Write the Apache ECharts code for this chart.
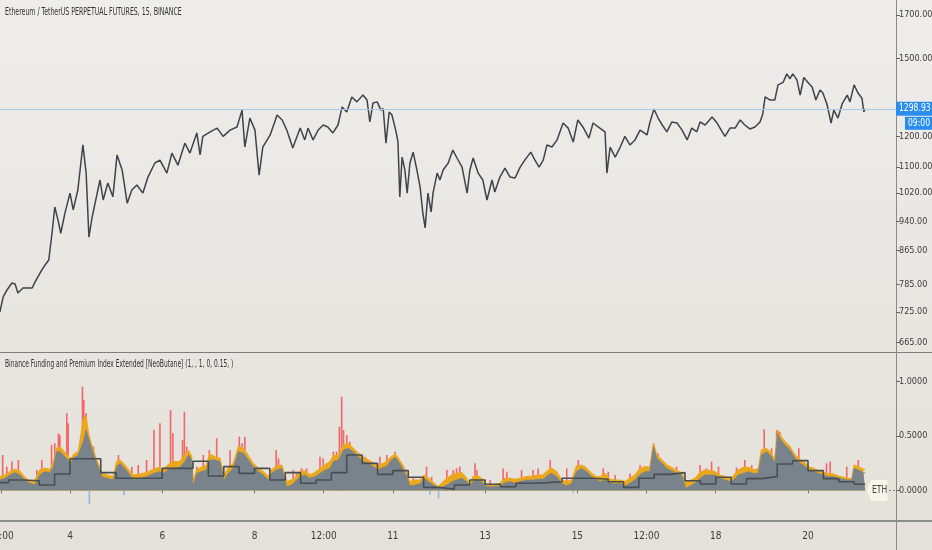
<!DOCTYPE html>
<html>
<head>
<meta charset="utf-8">
<script src="https://cdn.jsdelivr.net/npm/echarts@6/dist/echarts.min.js"></script>
<style>
html, body { margin: 0; padding: 0; }
#chart { width: 932px; height: 550px; background: linear-gradient(#eeedeb, #e4e1da); }
</style>
</head>
<body>
<div id="chart"></div>
<script>
// ETHUSDT perp, 15m, Jan 2021 -- x values are days of the month
const ethClose = [
  [2.48,725],[2.55,757],[2.63,772],[2.74,788],[2.81,786],[2.87,766],[2.98,777],[3.18,777],[3.24,790],[3.35,811],
  [3.46,830],[3.54,842],[3.61,909],[3.67,980],[3.74,944],[3.80,909],[3.89,963],[4.00,1020],[4.07,972],[4.17,1029],
  [4.28,1171],[4.35,1080],[4.41,899],[4.48,952],[4.59,1020],[4.65,1059],[4.72,1000],[4.82,1050],[4.93,1009],[5.02,1138],
  [5.13,1090],[5.24,991],[5.34,1029],[5.45,1044],[5.58,1020],[5.69,1068],[5.84,1112],[5.95,1121],[6.10,1080],[6.21,1144],
  [6.34,1105],[6.49,1177],[6.60,1144],[6.75,1212],[6.82,1138],[6.88,1200],[7.04,1216],[7.19,1229],[7.32,1200],[7.47,1222],
  [7.62,1233],[7.73,1294],[7.79,1164],[7.90,1265],[8.01,1222],[8.10,1074],[8.18,1164],[8.34,1205],[8.49,1276],[8.60,1258],
  [8.70,1222],[8.83,1161],[8.99,1229],[9.09,1188],[9.16,1229],[9.27,1188],[9.38,1222],[9.49,1240],[9.59,1233],[9.70,1212],
  [9.81,1240],[9.90,1306],[10.00,1287],[10.11,1344],[10.22,1325],[10.35,1351],[10.44,1332],[10.50,1251],[10.57,1321],[10.66,1325],
  [10.74,1294],[10.79,1300],[10.85,1177],[10.92,1287],[10.98,1276],[11.07,1216],[11.11,1181],[11.15,1009],[11.20,1131],[11.26,1090],
  [11.31,1020],[11.37,1112],[11.44,1147],[11.52,1090],[11.59,1038],[11.65,963],[11.70,923],[11.76,1020],[11.83,966],[11.87,1020],
  [11.96,1080],[12.02,1059],[12.09,1090],[12.20,1112],[12.30,1154],[12.39,1128],[12.50,1099],[12.61,1020],[12.67,1090],[12.74,1128],
  [12.85,1080],[12.95,1059],[13.04,1000],[13.15,1059],[13.21,1023],[13.32,1068],[13.43,1096],[13.54,1068],[13.65,1065],[13.76,1099],
  [13.86,1121],[13.99,1147],[14.08,1121],[14.17,1099],[14.26,1121],[14.34,1171],[14.45,1164],[14.56,1188],[14.69,1247],[14.80,1229],
  [14.91,1181],[15.01,1258],[15.12,1233],[15.25,1194],[15.34,1247],[15.45,1233],[15.60,1216],[15.64,1080],[15.71,1164],[15.82,1131],
  [15.93,1164],[16.03,1200],[16.14,1171],[16.25,1188],[16.36,1222],[16.51,1205],[16.57,1247],[16.66,1298],[16.75,1265],[16.84,1240],
  [16.94,1216],[17.05,1251],[17.16,1247],[17.27,1222],[17.38,1188],[17.48,1229],[17.59,1216],[17.66,1251],[17.77,1240],[17.92,1269],
  [18.03,1247],[18.14,1216],[18.20,1200],[18.31,1229],[18.42,1229],[18.53,1258],[18.63,1240],[18.74,1226],[18.85,1233],[18.96,1251],
  [19.02,1280],[19.07,1344],[19.18,1332],[19.28,1332],[19.35,1391],[19.46,1401],[19.54,1436],[19.61,1416],[19.67,1436],[19.76,1411],
  [19.83,1351],[19.91,1421],[20.00,1401],[20.09,1383],[20.17,1332],[20.26,1371],[20.32,1360],[20.41,1317],[20.50,1247],[20.56,1294],
  [20.65,1265],[20.74,1317],[20.85,1351],[20.91,1325],[21.00,1391],[21.08,1360],[21.17,1339],[21.21,1287],[21.24,1298.93]
];
const lastPrice = 1298.93;
const priceTicks = [665, 725, 785, 865, 940, 1020, 1100, 1200, 1500, 1700];

// premium index (orange) and its running average (grey), same days
const premDays = [
  2.48,2.59,2.70,2.81,2.92,3.02,3.13,3.24,3.34,3.46,3.57,3.64,3.71,3.78,3.89,3.96,4.01,4.07,4.18,4.29,
  4.35,4.40,4.47,4.54,4.61,4.69,4.80,4.94,5.01,5.08,5.19,5.30,5.37,5.52,5.66,5.81,5.95,6.02,6.13,6.24,
  6.38,6.49,6.57,6.64,6.67,6.75,6.85,6.96,7.03,7.14,7.25,7.34,7.43,7.54,7.65,7.76,7.87,7.97,8.08,8.19,
  8.30,8.37,8.48,8.59,8.66,8.70,8.81,8.91,8.99,9.09,9.20,9.31,9.42,9.53,9.64,9.71,9.82,9.93,10.03,10.14,
  10.25,10.36,10.47,10.58,10.68,10.79,10.86,10.97,11.05,11.12,11.23,11.30,11.37,11.48,11.59,11.68,11.77,11.88,11.99,12.06,
  12.17,12.28,12.38,12.49,12.60,12.67,12.74,12.85,12.96,13.03,13.18,13.32,13.43,13.54,13.65,13.76,13.90,14.05,14.15,14.26,
  14.37,14.44,14.55,14.66,14.77,14.88,14.98,15.09,15.20,15.31,15.42,15.49,15.60,15.71,15.82,15.92,16.03,16.14,16.25,16.34,
  16.47,16.57,16.65,16.72,16.83,16.94,17.04,17.15,17.26,17.35,17.44,17.55,17.66,17.77,17.88,17.98,18.09,18.20,18.31,18.38,
  18.49,18.60,18.71,18.81,18.92,18.99,19.10,19.21,19.28,19.34,19.39,19.50,19.61,19.72,19.83,19.93,20.01,20.12,20.22,20.33,
  20.44,20.55,20.66,20.77,20.87,20.95,21.00,21.09,21.20,21.24
];
const premIndex = [
  0.127,0.142,0.173,0.194,0.173,0.121,0.081,0.096,0.188,0.203,0.194,0.265,0.387,0.402,0.347,0.317,0.280,0.326,0.356,0.660,
  0.680,0.525,0.417,0.326,0.249,0.164,0.142,0.127,0.265,0.280,0.234,0.173,0.142,0.151,0.164,0.194,0.213,0.194,0.234,0.265,
  0.265,0.326,0.365,0.310,0.081,0.194,0.213,0.234,0.335,0.310,0.295,0.142,0.203,0.249,0.402,0.387,0.317,0.249,0.203,0.173,
  0.127,0.188,0.225,0.234,0.142,0.081,0.096,0.127,0.173,0.182,0.142,0.164,0.203,0.234,0.265,0.317,0.326,0.417,0.433,0.387,
  0.341,0.304,0.280,0.249,0.225,0.249,0.265,0.310,0.335,0.295,0.219,0.157,0.081,0.096,0.096,0.142,0.112,0.072,0.035,0.066,
  0.112,0.142,0.157,0.164,0.112,0.051,0.127,0.133,0.096,0.051,0.051,0.066,0.112,0.112,0.103,0.112,0.127,0.133,0.142,0.142,
  0.188,0.203,0.173,0.096,0.081,0.096,0.225,0.234,0.203,0.157,0.127,0.127,0.157,0.103,0.096,0.096,0.081,0.112,0.142,0.194,
  0.219,0.213,0.433,0.326,0.280,0.234,0.213,0.182,0.164,0.081,0.090,0.112,0.164,0.188,0.182,0.173,0.142,0.127,0.112,0.133,
  0.188,0.213,0.213,0.194,0.188,0.372,0.387,0.341,0.280,0.555,0.509,0.448,0.402,0.326,0.280,0.255,0.219,0.203,0.182,0.164,
  0.157,0.151,0.133,0.121,0.112,0.105,0.234,0.219,0.194,0.194
];
const premBasis = [
  0.096,0.112,0.142,0.164,0.142,0.096,0.066,0.051,0.142,0.173,0.164,0.219,0.356,0.356,0.310,0.280,0.234,0.295,0.326,0.450,
  0.555,0.479,0.387,0.295,0.219,0.127,0.112,0.096,0.219,0.249,0.203,0.142,0.096,0.112,0.127,0.157,0.173,0.157,0.188,0.203,
  0.213,0.265,0.326,0.280,0.035,0.157,0.173,0.188,0.280,0.280,0.265,0.096,0.157,0.203,0.356,0.341,0.280,0.219,0.173,0.142,
  0.096,0.157,0.188,0.203,0.096,0.035,0.051,0.096,0.127,0.142,0.112,0.127,0.157,0.188,0.203,0.265,0.280,0.372,0.387,0.356,
  0.310,0.265,0.249,0.219,0.188,0.213,0.219,0.280,0.304,0.265,0.188,0.127,0.041,0.051,0.060,0.112,0.081,0.051,0.020,0.029,
  0.051,0.081,0.096,0.112,0.081,0.035,0.081,0.096,0.066,0.035,0.035,0.041,0.072,0.081,0.066,0.081,0.096,0.096,0.103,0.103,
  0.142,0.157,0.127,0.066,0.041,0.066,0.173,0.203,0.173,0.127,0.096,0.081,0.096,0.066,0.060,0.066,0.041,0.066,0.096,0.142,
  0.173,0.173,0.402,0.295,0.249,0.203,0.182,0.157,0.142,0.020,0.041,0.066,0.112,0.142,0.142,0.142,0.112,0.096,0.081,0.096,
  0.142,0.157,0.173,0.157,0.157,0.326,0.356,0.310,0.249,0.525,0.479,0.417,0.372,0.295,0.249,0.225,0.188,0.173,0.157,0.142,
  0.127,0.127,0.112,0.103,0.096,0.096,0.203,0.188,0.164,0.164
];

// raw premium spikes (red) and negative prints (blue)
const premSpikes = [
  [2.54,0.326],[2.63,0.219],[2.74,0.265],[2.88,0.280],[3.28,0.188],[3.39,0.280],[3.60,0.417],[3.67,0.433],[3.75,0.525],[3.78,0.509],
  [3.93,0.708],[3.96,0.616],[4.14,0.356],[4.22,0.356],[4.27,0.953],[4.30,0.830],[4.35,0.708],[4.51,0.402],[5.05,0.326],[5.34,0.219],
  [5.48,0.234],[5.66,0.280],[5.82,0.555],[5.95,0.616],[6.18,0.739],[6.23,0.525],[6.44,0.463],[6.48,0.723],[6.53,0.402],[6.75,0.219],
  [6.89,0.326],[7.02,0.372],[7.18,0.479],[7.47,0.372],[7.67,0.494],[7.73,0.433],[7.79,0.494],[8.47,0.372],[8.52,0.295],[8.84,0.188],
  [8.91,0.157],[9.02,0.203],[9.13,0.203],[9.42,0.310],[9.49,0.295],[9.56,0.249],[9.71,0.356],[9.78,0.356],[9.84,0.586],[9.89,0.861],
  [9.93,0.555],[10.00,0.509],[10.07,0.448],[10.21,0.356],[10.40,0.310],[10.54,0.265],[10.72,0.310],[10.87,0.326],[11.05,0.356],[11.44,0.112],
  [11.73,0.219],[11.84,0.127],[12.17,0.188],[12.31,0.188],[12.38,0.203],[12.45,0.219],[12.56,0.127],[12.78,0.249],[12.82,0.188],[13.11,0.096],
  [13.39,0.203],[13.47,0.173],[13.79,0.188],[14.04,0.188],[14.15,0.203],[14.41,0.280],[14.77,0.203],[15.02,0.280],[15.17,0.219],[15.56,0.203],
  [15.67,0.173],[15.82,0.142],[16.14,0.157],[16.36,0.234],[16.43,0.203],[16.66,0.427],[16.75,0.341],[17.15,0.219],[17.66,0.234],[17.80,0.203],
  [17.91,0.265],[18.06,0.219],[18.45,0.213],[18.63,0.280],[18.78,0.234],[18.89,0.203],[19.05,0.561],[19.14,0.356],[19.21,0.387],[19.32,0.555],
  [19.39,0.540],[19.80,0.387],[19.86,0.280],[20.40,0.249],[20.48,0.265],[20.84,0.219],[21.09,0.280]
];
const premNegative = [[4.42,-0.124],[5.17,-0.041],[11.80,-0.040],[11.99,-0.072],[14.91,-0.020]];

// 8h funding rate, first period starts Jan 2 08:00
const fundingStart = 2 + 1 / 3;
const fundingRate = [
  0.072,0.096,0.090,0.050,0.151,0.292,0.292,0.164,0.112,0.112,0.112,0.203,0.203,0.268,0.133,0.219,0.157,0.203,0.096,0.164,
  0.066,0.096,0.164,0.326,0.249,0.148,0.182,0.121,0.029,0.011,0.051,0.096,0.057,0.035,0.066,0.072,0.081,0.112,0.112,
  0.103,0.081,0.029,0.112,0.148,0.164,0.090,0.060,0.121,0.060,0.109,0.127,0.243,0.274,0.182,0.109,0.081,0.057
];
const lastDay = 21.24;
const dayTicks = [2.5, 4, 6, 8, 9.5, 11, 13, 15, 16.5, 18, 20];
const premTicks = [0, 0.5, 1];

const FONT = '"Liberation Sans Narrow", "DejaVu Sans Condensed", sans-serif';
const xMin = 2.4824, xMax = 21.908;

const fundingData = fundingRate.map((v, i) => [fundingStart + i / 3, v]);
fundingData.push([lastDay, fundingRate[fundingRate.length - 1]]);

// thin vertical bars from zero, without the bar-series axis padding
function spikeRenderer(color) {
  return function (params, api) {
    const top = api.coord([api.value(0), api.value(1)]);
    const base = api.coord([api.value(0), 0]);
    return {
      type: 'rect',
      shape: { x: top[0] - 0.8, y: Math.min(top[1], base[1]), width: 1.6, height: Math.abs(base[1] - top[1]) },
      style: { fill: color }
    };
  };
}

const chart = echarts.init(document.getElementById('chart'));

const axisText = { fontFamily: FONT, fontSize: 9, color: '#3c3c3c' };

chart.setOption({
  animation: false,
  backgroundColor: 'transparent',
  grid: [
    { left: 0, right: 36, top: 0, height: 352, outerBoundsMode: 'none', containLabel: false },
    { left: 0, right: 36, top: 353, height: 167, outerBoundsMode: 'none', containLabel: false }
  ],
  xAxis: [
    { type: 'value', gridIndex: 0, min: xMin, max: xMax, show: false },
    {
      type: 'value', gridIndex: 1, min: xMin, max: xMax,
      axisLine: { show: false },
      splitLine: { show: false },
      axisTick: { show: true, customValues: dayTicks, length: 3, lineStyle: { color: '#777' } },
      axisLabel: Object.assign({
        customValues: dayTicks, margin: 11,
        formatter: v => (v % 1 ? '12:00' : String(v))
      }, axisText, { fontSize: 10 })
    }
  ],
  yAxis: [
    {
      type: 'log', gridIndex: 0, position: 'right', logBase: 10, min: 646.6, max: 1774.7,
      axisLine: { show: false },
      splitLine: { show: false },
      axisTick: { show: true, customValues: priceTicks, length: 4, lineStyle: { color: '#666' } },
      axisLabel: Object.assign({ customValues: priceTicks, margin: 3, formatter: v => v.toFixed(2) }, axisText)
    },
    {
      type: 'value', gridIndex: 1, position: 'right', min: -0.2706, max: 1.2615,
      axisLine: { show: false },
      splitLine: { show: false },
      axisTick: { show: true, customValues: premTicks, length: 4, lineStyle: { color: '#666' } },
      axisLabel: Object.assign({ customValues: premTicks, margin: 3, formatter: v => v.toFixed(4) }, axisText)
    }
  ],
  series: [
    {
      type: 'line', xAxisIndex: 0, yAxisIndex: 0, data: ethClose,
      symbol: 'none', lineStyle: { color: '#3f434a', width: 1.5 },
      markLine: {
        silent: true, symbol: 'none', label: { show: false },
        lineStyle: { color: '#a9c9ea', width: 1, type: 'solid' },
        data: [{ yAxis: lastPrice }]
      }
    },
    {
      type: 'custom', xAxisIndex: 1, yAxisIndex: 1, data: premSpikes,
      renderItem: spikeRenderer('rgba(245,70,70,0.8)')
    },
    {
      type: 'custom', xAxisIndex: 1, yAxisIndex: 1, data: premNegative,
      renderItem: spikeRenderer('#8fb7e3')
    },
    {
      type: 'line', xAxisIndex: 1, yAxisIndex: 1,
      data: premDays.map((d, i) => [d, premIndex[i]]),
      symbol: 'none', lineStyle: { color: '#eca81d', width: 1.2 },
      areaStyle: { color: '#eca81d', opacity: 1 }
    },
    {
      type: 'line', xAxisIndex: 1, yAxisIndex: 1,
      data: premDays.map((d, i) => [d, premBasis[i]]),
      symbol: 'none', lineStyle: { color: '#78838b', width: 0.8 },
      areaStyle: { color: '#78838b', opacity: 1 }
    },
    {
      type: 'line', xAxisIndex: 1, yAxisIndex: 1, data: fundingData, step: 'end',
      symbol: 'none', lineStyle: { color: '#474e54', width: 1.6 }
    }
  ]
});

// overlay: pane titles, separators, last-price tags
const yPrice = chart.convertToPixel({ yAxisIndex: 0 }, lastPrice);
const yZero = chart.convertToPixel({ yAxisIndex: 1 }, 0);
const textStyle = (txt, fill, size) => ({ text: txt, fill: fill, font: size + 'px ' + FONT });

chart.setOption({
  graphic: [
    { type: 'text', x: 5, y: 7, scaleX: 0.63, style: Object.assign(textStyle('Ethereum / TetherUS PERPETUAL FUTURES, 15, BINANCE', '#333', 11), { verticalAlign: 'top' }) },
    { type: 'text', x: 5, y: 359, scaleX: 0.6, style: Object.assign(textStyle('Binance Funding and Premium Index Extended [NeoButane] (1, , 1, 0, 0.15, )', '#333', 11), { verticalAlign: 'top' }) },
    { type: 'line', shape: { x1: 0, y1: 352.5, x2: 932, y2: 352.5 }, style: { stroke: '#7d7d7d', lineWidth: 1 } },
    { type: 'line', shape: { x1: 0, y1: 521, x2: 932, y2: 521 }, style: { stroke: '#8c8c8c', lineWidth: 2 } },
    { type: 'line', shape: { x1: 896.5, y1: 0, x2: 896.5, y2: 550 }, style: { stroke: '#8a8a8a', lineWidth: 1 } },
    { type: 'rect', shape: { x: 896, y: yPrice - 7, width: 36, height: 14 }, style: { fill: '#2a8ef0' } },
    { type: 'text', x: 899, y: yPrice, scaleX: 0.85, style: Object.assign(textStyle('1298.93', '#fff', 10), { verticalAlign: 'middle' }) },
    { type: 'rect', shape: { x: 905, y: yPrice + 8, width: 27, height: 13 }, style: { fill: '#2a8ef0' } },
    { type: 'text', x: 908, y: yPrice + 14.5, scaleX: 0.85, style: Object.assign(textStyle('09:00', '#fff', 10), { verticalAlign: 'middle' }) },
    { type: 'polygon', shape: { points: [[866, yZero], [871, yZero - 11], [888, yZero - 11], [888, yZero + 11], [871, yZero + 11]] },
      style: { fill: '#f7f5e9', stroke: '#e2dfd2', lineWidth: 1 } },
    { type: 'text', x: 872, y: yZero, scaleX: 0.85, style: Object.assign(textStyle('ETH', '#444', 10), { verticalAlign: 'middle' }) },
    { type: 'line', shape: { x1: 889, y1: yZero, x2: 896, y2: yZero }, style: { stroke: '#888', lineWidth: 1, lineDash: [2, 2] } }
  ]
});

window.addEventListener('resize', () => chart.resize());
</script>
</body>
</html>
